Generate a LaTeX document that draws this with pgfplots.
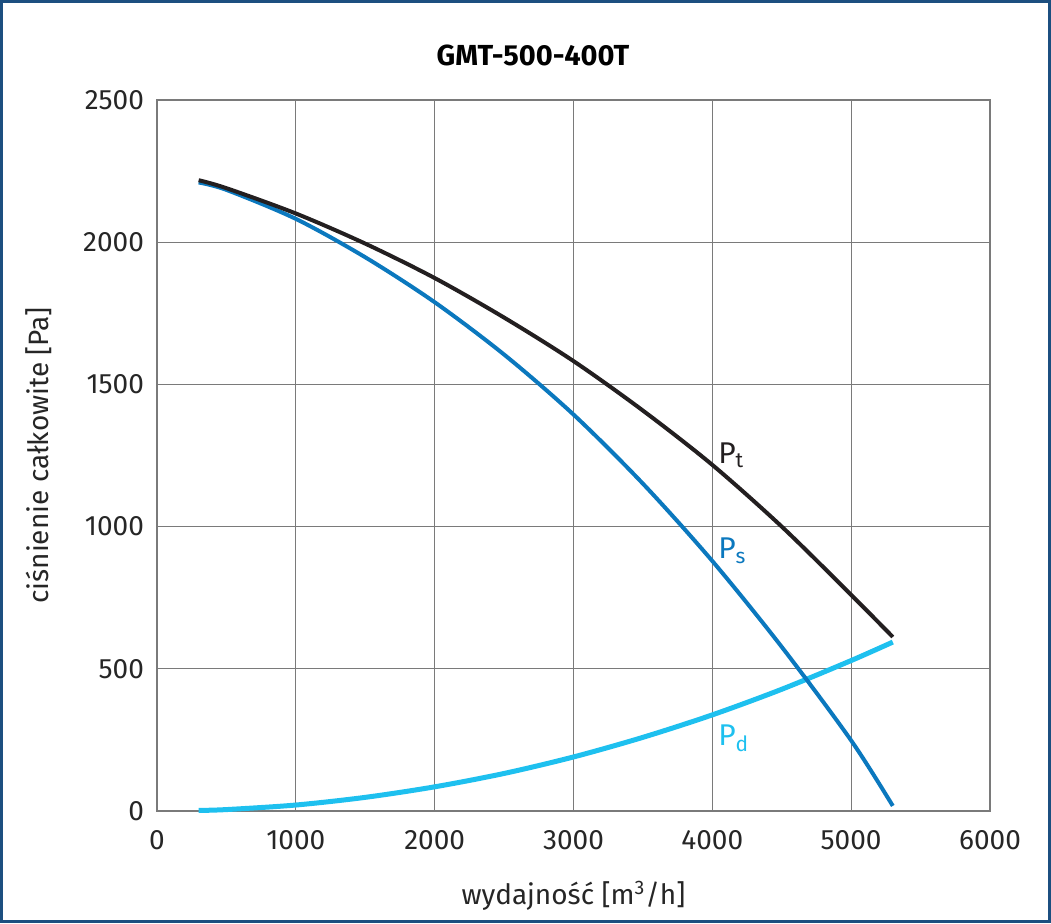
\documentclass[border=0pt]{standalone}
\usepackage{pgfplots}
\pgfplotsset{compat=1.18}
\usepackage{fontspec}
\setmainfont{Fira Sans}
\definecolor{frameblue}{HTML}{1C4F80}
\definecolor{ptc}{HTML}{231F20}
\definecolor{psc}{HTML}{0B78BE}
\definecolor{pdc}{HTML}{1EC0EF}
\definecolor{gridc}{HTML}{7A7A7A}
\begin{document}
\begin{tikzpicture}
\useasboundingbox (-78.5pt,-56pt) rectangle (447pt,405.5pt);
\begin{axis}[
  at={(0,0)}, anchor=south west,
  scale only axis, width=416.5pt, height=355.5pt,
  xmin=0, xmax=6000, ymin=0, ymax=2500,
  xtick={0,1000,...,6000}, ytick={0,500,...,2500},
  major tick length=0pt,
  grid=major,
  major grid style={gridc, line width=0.5pt},
  axis line style={gridc, line width=0.7pt},
  /pgf/number format/assume math mode=true,
  /pgf/number format/set thousands separator={},
  tick label style={font=\fontsize{14}{16}\selectfont\color{black!85}},
  xticklabel style={yshift=-6pt},
  yticklabel style={xshift=-3pt},
  xlabel={wydajność [m\textsuperscript{3}/h]},
  ylabel={ciśnienie całkowite [Pa]},
  label style={font=\fontsize{14}{16}\selectfont\color{black!85}},
  xlabel style={yshift=-9pt},
  ylabel style={yshift=9pt},
  clip=false,
]
\addplot[pdc, line width=2.5pt, smooth] coordinates {
 (300,2) (500,5) (1000,21) (1500,48) (2000,85) (2500,132) (3000,190)
 (3500,259) (4000,338) (4500,428) (5000,529) (5300,594)};
\addplot[psc, line width=2pt, smooth] coordinates {
 (300,2210) (500,2184) (1000,2082) (1500,1947) (2000,1789) (2500,1605) (3000,1394)
 (3500,1151) (4000,879) (4500,577) (5000,248) (5300,18)};
\addplot[ptc, line width=2pt, smooth] coordinates {
 (300,2218) (500,2190) (1000,2101) (1500,1995) (2000,1874) (2500,1735) (3000,1582)
 (3500,1408) (4000,1217) (4500,1000) (5000,760) (5300,612)};
\node[anchor=west, font=\fontsize{15}{17}\selectfont, text=ptc, inner sep=0pt] at (axis cs:4040,1250) {P\textsubscript{t}};
\node[anchor=west, font=\fontsize{15}{17}\selectfont, text=psc, inner sep=0pt] at (axis cs:4040,915) {P\textsubscript{s}};
\node[anchor=west, font=\fontsize{15}{17}\selectfont, text=pdc, inner sep=0pt] at (axis cs:4040,255) {P\textsubscript{d}};
\end{axis}
\node[font=\fontsize{14.5}{17}\selectfont\bfseries] at (188pt,378pt) {GMT-500-400T};
\draw[frameblue, line width=1.5pt] (-77.75pt,-55.25pt) rectangle (446.25pt,404.75pt);
\end{tikzpicture}
\end{document}
